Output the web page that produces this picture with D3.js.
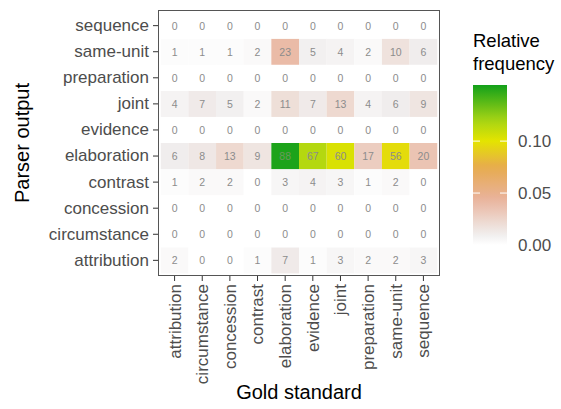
<!DOCTYPE html>
<html><head><meta charset="utf-8">
<script src="https://cdn.jsdelivr.net/npm/d3@7"></script>
<style>body{margin:0;background:#fff;font-family:"Liberation Sans",Arial,sans-serif}</style>
</head><body><svg id="c" width="561" height="409"></svg>
<script>
const goldCats = ["attribution","circumstance","concession","contrast","elaboration","evidence","joint","preparation","same-unit","sequence"];
const parserCats = ["attribution","circumstance","concession","contrast","elaboration","evidence","joint","preparation","same-unit","sequence"];
// counts, rows = parser output, columns = gold standard (goldCats order)
const rowAttribution   = [2,0,0,1,7,1,3,2,2,3];
const rowCircumstance  = [0,0,0,0,0,0,0,0,0,0];
const rowConcession    = [0,0,0,0,0,0,0,0,0,0];
const rowContrast      = [1,2,2,0,3,4,3,1,2,0];
const rowElaboration   = [6,8,13,9,88,67,60,17,56,20];
const rowEvidence      = [0,0,0,0,0,0,0,0,0,0];
const rowJoint         = [4,7,5,2,11,7,13,4,6,9];
const rowPreparation   = [0,0,0,0,0,0,0,0,0,0];
const rowSameUnit      = [1,1,1,2,23,5,4,2,10,6];
const rowSequence      = [0,0,0,0,0,0,0,0,0,0];
const rows = [rowAttribution,rowCircumstance,rowConcession,rowContrast,rowElaboration,rowEvidence,rowJoint,rowPreparation,rowSameUnit,rowSequence];
const totalCount = 580;
const legendTicks = [0.00,0.05,0.10];
const legendMax = 0.154;

const cells = [];
parserCats.forEach((p,i)=>goldCats.forEach((g,j)=>cells.push({p,g,n:rows[i][j],f:rows[i][j]/totalCount})));

const svg = d3.select("#c");
const L=158,R=440,T=10,B=276;
const x = d3.scaleBand().domain(goldCats).range([L,R]).paddingOuter(0.1).paddingInner(0);
const y = d3.scaleBand().domain(parserCats.slice().reverse()).range([T,B]).paddingOuter(0.1).paddingInner(0);
const color = d3.scaleLinear()
  .domain([0,0.01,0.045,0.075,0.1,0.12,legendMax])
  .range(["#ffffff","#f0eeee","#e9b29a","#e7aa4e","#e4e400","#a6d414","#12a01a"])
  .clamp(true);

svg.append("rect").attr("x",L).attr("y",T).attr("width",R-L).attr("height",B-T).attr("fill","#fff");
svg.append("g").selectAll("rect").data(cells).join("rect")
  .attr("x",d=>x(d.g)).attr("y",d=>y(d.p)).attr("width",x.bandwidth()).attr("height",y.bandwidth())
  .attr("fill",d=>color(d.f));
svg.append("g").selectAll("text").data(cells).join("text")
  .attr("x",d=>x(d.g)+x.bandwidth()/2).attr("y",d=>y(d.p)+y.bandwidth()/2)
  .attr("text-anchor","middle").attr("dominant-baseline","central")
  .attr("font-size",10.5).attr("fill",d=>d.f>0.13?"#6a9a5a":"#8c8c8c").text(d=>d.n);
svg.append("rect").attr("x",L+0.5).attr("y",T+0.5).attr("width",R-L-1).attr("height",B-T-1)
  .attr("fill","none").attr("stroke","#555").attr("stroke-width",1);

const xa = svg.append("g").attr("transform",`translate(0,${B})`).call(d3.axisBottom(x).tickSize(5).tickPadding(3));
xa.select(".domain").remove();
xa.selectAll("line").attr("stroke","#333");
xa.selectAll("text").attr("font-size",17).attr("fill","#4d4d4d").attr("font-family","Liberation Sans, Arial")
  .attr("transform","rotate(-90)").attr("text-anchor","end").attr("dy","0.35em").attr("x",-8).attr("y",0);
const ya = svg.append("g").attr("transform",`translate(${L},0)`).call(d3.axisLeft(y).tickSize(5).tickPadding(4));
ya.select(".domain").remove();
ya.selectAll("line").attr("stroke","#333");
ya.selectAll("text").attr("font-size",17).attr("fill","#4d4d4d").attr("font-family","Liberation Sans, Arial");

svg.append("text").attr("x",(L+R)/2).attr("y",399).attr("text-anchor","middle").attr("font-size",20).attr("fill","#000").text("Gold standard");
svg.append("text").attr("transform",`translate(29,${(T+B)/2}) rotate(-90)`).attr("text-anchor","middle").attr("font-size",20).attr("fill","#000").text("Parser output");

// legend
svg.append("text").attr("x",473).attr("y",47).attr("font-size",18.5).text("Relative");
svg.append("text").attr("x",473).attr("y",70).attr("font-size",18.5).text("frequency");
const lx=473,lw=34,ltop=85,lbot=245;
const ls = d3.scaleLinear().domain([0,legendMax]).range([lbot,ltop]);
const grad = svg.append("defs").append("linearGradient").attr("id","lg").attr("x1",0).attr("y1",1).attr("x2",0).attr("y2",0);
d3.range(0,21).forEach(i=>{const v=legendMax*i/20;grad.append("stop").attr("offset",i/20).attr("stop-color",color(v));});
svg.append("rect").attr("x",lx).attr("y",ltop).attr("width",lw).attr("height",lbot-ltop).attr("fill","url(#lg)");
legendTicks.forEach(t=>{
  const yy=ls(t);
  if(t>0){
    svg.append("line").attr("x1",lx).attr("x2",lx+7).attr("y1",yy).attr("y2",yy).attr("stroke","#fff").attr("stroke-width",1);
    svg.append("line").attr("x1",lx+lw-7).attr("x2",lx+lw).attr("y1",yy).attr("y2",yy).attr("stroke","#fff").attr("stroke-width",1);
  }
  svg.append("text").attr("x",518).attr("y",yy).attr("dominant-baseline","central").attr("font-size",17).attr("fill","#4d4d4d").text(t.toFixed(2));
});
</script></body></html>
